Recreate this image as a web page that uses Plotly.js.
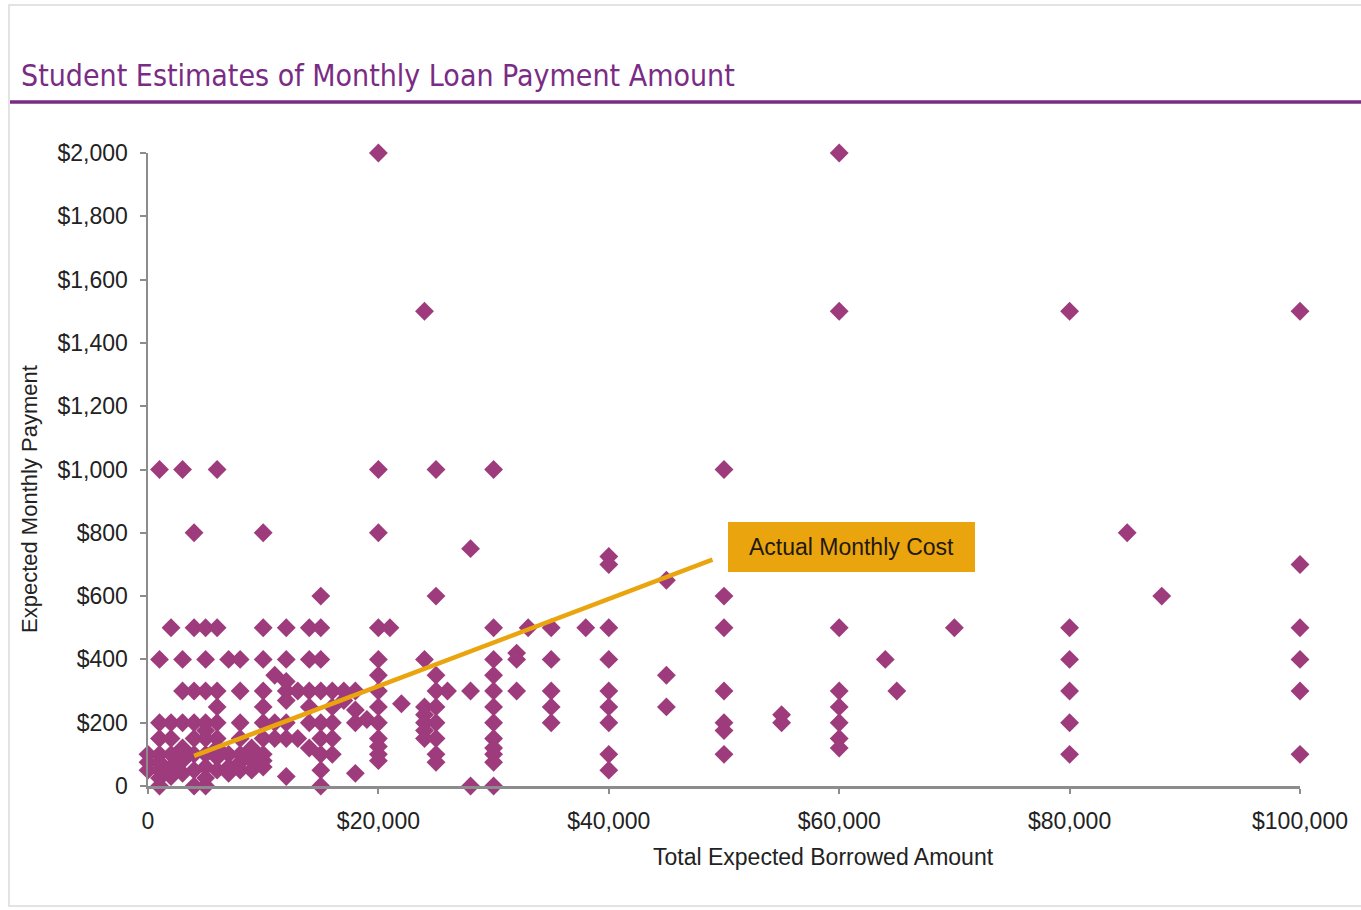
<!DOCTYPE html>
<html>
<head>
<meta charset="utf-8">
<script src="https://cdn.plot.ly/plotly-3.0.1.min.js"></script>
<style>
  html, body { margin: 0; padding: 0; background: #ffffff; }
  #chart { width: 1361px; height: 910px; }
</style>
</head>
<body>
<div id="chart"></div>
<script>
// ---- Data ----
const chartTitle = "Student Estimates of Monthly Loan Payment Amount";
const xAxisTitle = "Total Expected Borrowed Amount";
const yAxisTitle = "Expected Monthly Payment";
const calloutText = "Actual Monthly Cost";

// Total expected borrowed amount ($) for each student estimate
const borrowed = [
  0, 0, 0,
  1000, 1000, 1000, 1000, 1000, 1000, 1000, 1000, 1000,
  2000, 2000, 2000, 2000, 2000, 2000,
  3000, 3000, 3000, 3000, 3000, 3000, 3000,
  4000, 4000, 4000, 4000, 4000, 4000, 4000, 4000,
  5000, 5000, 5000, 5000, 5000, 5000, 5000, 5000, 5000, 5000,
  6000, 6000, 6000, 6000, 6000, 6000, 6000, 6000, 6000,
  7000, 7000, 7000, 7000,
  8000, 8000, 8000, 8000, 8000, 8000, 8000,
  9000, 9000, 9000,
  10000, 10000, 10000, 10000, 10000, 10000, 10000, 10000, 10000, 10000,
  11000, 11000, 11000,
  12000, 12000, 12000, 12000, 12000, 12000, 12000, 12000,
  13000, 13000,
  14000, 14000, 14000, 14000, 14000, 14000,
  15000, 15000, 15000, 15000, 15000, 15000, 15000, 15000, 15000,
  16000, 16000, 16000, 16000, 16000,
  17000, 17000,
  18000, 18000, 18000, 18000,
  19000,
  20000, 20000, 20000, 20000, 20000, 20000, 20000, 20000, 20000, 20000, 20000, 20000, 20000,
  21000,
  22000,
  24000, 24000, 24000, 24000, 24000, 24000, 24000,
  25000, 25000, 25000, 25000, 25000, 25000, 25000, 25000, 25000,
  26000,
  28000, 28000, 28000,
  30000, 30000, 30000, 30000, 30000, 30000, 30000, 30000, 30000, 30000, 30000, 30000,
  32000, 32000, 32000,
  33000,
  35000, 35000, 35000, 35000, 35000,
  38000,
  40000, 40000, 40000, 40000, 40000, 40000, 40000, 40000, 40000,
  45000, 45000, 45000,
  50000, 50000, 50000, 50000, 50000, 50000, 50000,
  55000, 55000,
  60000, 60000, 60000, 60000, 60000, 60000, 60000, 60000,
  64000,
  65000,
  70000,
  80000, 80000, 80000, 80000, 80000, 80000,
  85000,
  88000,
  100000, 100000, 100000, 100000, 100000, 100000
];

// Expected monthly payment ($), same order as borrowed
const payment = [
  100, 75, 50,
  1000, 400, 200, 150, 100, 75, 50, 25, 0,
  500, 200, 150, 100, 60, 30,
  1000, 400, 300, 200, 120, 80, 40,
  800, 500, 300, 200, 150, 100, 50, 0,
  500, 400, 300, 200, 175, 150, 100, 60, 25, 0,
  1000, 500, 300, 250, 200, 150, 120, 90, 50,
  400, 100, 60, 40,
  400, 300, 200, 150, 100, 75, 50,
  120, 80, 50,
  800, 500, 400, 300, 250, 200, 150, 100, 80, 60,
  350, 200, 150,
  500, 400, 330, 300, 270, 200, 150, 30,
  300, 150,
  500, 400, 300, 250, 200, 120,
  600, 500, 400, 300, 200, 150, 100, 50, 0,
  300, 250, 200, 150, 100,
  300, 270,
  300, 240, 200, 40,
  210,
  2000, 1000, 800, 500, 400, 350, 300, 250, 200, 150, 125, 100, 80,
  500,
  260,
  1500, 400, 250, 225, 200, 175, 150,
  1000, 600, 350, 300, 250, 200, 150, 100, 75,
  300,
  750, 300, 0,
  1000, 500, 400, 350, 300, 250, 200, 150, 120, 100, 75, 0,
  420, 400, 300,
  500,
  500, 400, 300, 250, 200,
  500,
  725, 700, 500, 400, 300, 250, 200, 100, 50,
  650, 350, 250,
  1000, 600, 500, 300, 200, 175, 100,
  225, 200,
  2000, 1500, 500, 300, 250, 200, 150, 120,
  400,
  300,
  500,
  1500, 500, 400, 300, 200, 100,
  800,
  600,
  1500, 700, 500, 400, 300, 100
];

// "Actual Monthly Cost" line end points
const costLineX = [4000, 49000];
const costLineY = [95, 715];

// Axis ticks
const xTickVals = [0, 20000, 40000, 60000, 80000, 100000];
const xTickText = ["0", "$20,000", "$40,000", "$60,000", "$80,000", "$100,000"];
const yTickVals = [0, 200, 400, 600, 800, 1000, 1200, 1400, 1600, 1800, 2000];
const yTickText = ["0", "$200", "$400", "$600", "$800", "$1,000", "$1,200", "$1,400", "$1,600", "$1,800", "$2,000"];

// ---- Layout geometry (pixels) ----
const W = 1361, H = 910;
const L = 148, R = 1300, T = 153, B = 786;
const pw = R - L, ph = B - T;
const px = v => (v - L) / pw;
const py = v => (B - v) / ph;

const purple = "#7A2C85";
const markerColor = "#9E3B7C";
const gold = "#EAA40E";
const tickFont = { family: "Liberation Sans, Arial, sans-serif", size: 23, color: "#222222" };

const traces = [
  {
    type: "scatter",
    mode: "markers",
    x: borrowed,
    y: payment,
    cliponaxis: false,
    marker: { symbol: "diamond", size: 14.5, color: markerColor, line: { width: 0 } },
    hoverinfo: "x+y",
    showlegend: false
  },
  {
    type: "scatter",
    mode: "lines",
    x: costLineX,
    y: costLineY,
    cliponaxis: false,
    line: { color: gold, width: 4.5 },
    showlegend: false
  }
];

const layout = {
  width: W,
  height: H,
  margin: { l: L, r: W - R, t: T, b: H - B, pad: 0 },
  paper_bgcolor: "#ffffff",
  plot_bgcolor: "#ffffff",
  showlegend: false,
  xaxis: {
    range: [0, 100000],
    tickvals: xTickVals,
    ticktext: xTickText,
    showgrid: false,
    zeroline: false,
    showline: true,
    linecolor: "#8C8C8C",
    linewidth: 2.5,
    ticks: "outside",
    ticklen: 5,
    tickwidth: 2,
    tickcolor: "#8C8C8C",
    ticklabelstandoff: 8,
    tickfont: tickFont,
    fixedrange: true
  },
  yaxis: {
    range: [0, 2000],
    tickvals: yTickVals,
    ticktext: yTickText,
    showgrid: false,
    zeroline: false,
    showline: true,
    linecolor: "#8C8C8C",
    linewidth: 2.5,
    ticks: "outside",
    ticklen: 6,
    tickwidth: 2,
    tickcolor: "#8C8C8C",
    ticklabelstandoff: 7,
    tickfont: tickFont,
    fixedrange: true
  },
  shapes: [
    { type: "rect", xref: "paper", yref: "paper",
      x0: px(9), x1: px(1375), y0: py(906), y1: py(5),
      line: { color: "#DADADA", width: 1.5 }, fillcolor: "rgba(0,0,0,0)", layer: "below" },
    { type: "line", xref: "paper", yref: "paper",
      x0: px(10), x1: px(1361), y0: py(102), y1: py(102),
      line: { color: purple, width: 3.5 } }
  ],
  annotations: [
    { xref: "paper", yref: "paper", x: px(19), y: py(76), xanchor: "left", yanchor: "middle",
      text: chartTitle, showarrow: false,
      font: { family: "Liberation Sans Narrow, DejaVu Sans Condensed, Arial Narrow, sans-serif", size: 30, color: purple } },
    { xref: "paper", yref: "paper", x: px(823), y: py(857), xanchor: "center", yanchor: "middle",
      text: xAxisTitle, showarrow: false,
      font: { family: "Liberation Sans, Arial, sans-serif", size: 23, color: "#222222" } },
    { xref: "paper", yref: "paper", x: px(29), y: py(499), xanchor: "center", yanchor: "middle",
      text: yAxisTitle, showarrow: false, textangle: -90,
      font: { family: "Liberation Sans, Arial, sans-serif", size: 22, color: "#222222" } },
    { xref: "paper", yref: "paper", x: px(851.5), y: py(547), xanchor: "center", yanchor: "middle",
      text: calloutText, showarrow: false, bgcolor: gold, borderpad: 0, borderwidth: 0,
      width: 247, height: 50, align: "center",
      font: { family: "Liberation Sans, Arial, sans-serif", size: 23, color: "#1E1A10" } }
  ]
};

Plotly.newPlot("chart", traces, layout, { displayModeBar: false, staticPlot: true });
</script>
</body>
</html>
